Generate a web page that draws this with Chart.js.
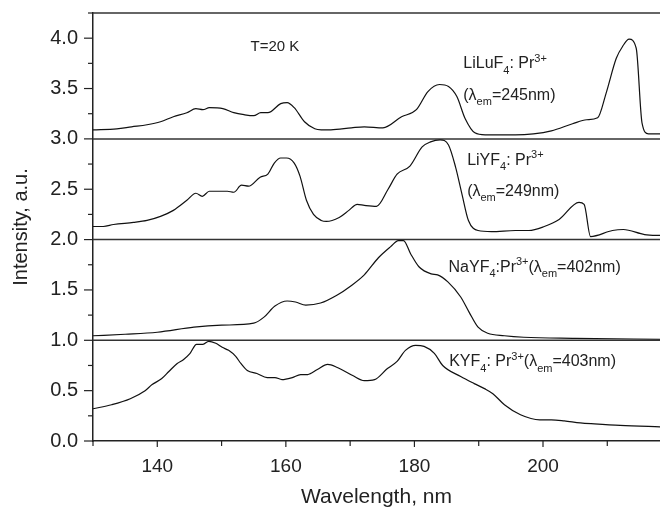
<!DOCTYPE html>
<html>
<head>
<meta charset="utf-8">
<script src="https://cdn.jsdelivr.net/npm/chart.js@4/dist/chart.umd.min.js"></script>
<style>
    html, body { margin: 0; padding: 0; background: #fff; }
    #wrap { width: 660px; height: 507px; }
</style>
</head>
<body>
<div id="wrap"><canvas id="spectra"></canvas></div>
<script>
// excitation spectra, stacked with offsets 3 / 2 / 1 / 0
var liluWl = [130, 133.7, 136, 138.4, 140.5, 142.5, 144.6, 146, 147.1, 148.1, 150.2, 151.9, 153.5, 155, 156.1, 157.2, 159.2, 160.2, 161.3, 162.9, 164.5, 165.5, 167, 170.2, 172.2, 175.1, 178, 180.3, 182.1, 183.9, 185.3, 186.6, 187.9, 189.4, 191, 195.7, 198.5, 201.3, 204.6, 206.8, 208.5, 209.8, 211.4, 212.4, 213.4, 214.5, 215.4, 216.4, 218.6];
var liluI = [3.09, 3.10, 3.12, 3.14, 3.17, 3.22, 3.26, 3.30, 3.29, 3.31, 3.30, 3.26, 3.24, 3.23, 3.26, 3.26, 3.35, 3.36, 3.31, 3.17, 3.10, 3.09, 3.09, 3.11, 3.12, 3.11, 3.22, 3.29, 3.47, 3.54, 3.52, 3.42, 3.20, 3.06, 3.04, 3.04, 3.05, 3.08, 3.15, 3.19, 3.21, 3.45, 3.80, 3.92, 3.99, 3.90, 3.16, 3.05, 3.05];

var liyWl = [130, 131.6, 133.2, 136.3, 138.4, 140.5, 142.5, 144.6, 146, 147, 148.1, 150.9, 151.9, 153.1, 154.2, 156, 157.2, 158.2, 159.2, 160.1, 161.3, 162.2, 163.2, 164.3, 165.5, 166.3, 168.3, 169.8, 171.1, 172.2, 174.1, 175.9, 177.3, 179.3, 181.2, 182.5, 184, 185.3, 186.4, 187.4, 188.4, 189.9, 192, 195.7, 197.8, 200.2, 202.5, 205.6, 206.4, 207.4, 210.8, 212.5, 215.8, 218.6];
var liyI = [2.13, 2.13, 2.15, 2.17, 2.19, 2.23, 2.29, 2.39, 2.46, 2.43, 2.48, 2.48, 2.47, 2.54, 2.53, 2.62, 2.65, 2.76, 2.81, 2.81, 2.76, 2.63, 2.39, 2.25, 2.19, 2.18, 2.22, 2.29, 2.35, 2.34, 2.33, 2.50, 2.65, 2.73, 2.92, 2.97, 2.99, 2.94, 2.72, 2.45, 2.19, 2.09, 2.08, 2.09, 2.09, 2.13, 2.20, 2.37, 2.35, 2.03, 2.09, 2.10, 2.05, 2.04];

var naWl = [130, 135, 140, 145.7, 150, 155, 156.6, 158.3, 160.2, 161.5, 163.1, 165.4, 168, 170.1, 172.2, 174.4, 176.3, 177.5, 178.3, 179.4, 180.7, 182.6, 183.6, 185.2, 187.2, 188.5, 189.9, 191.4, 194, 197, 205, 218.6];
var naI = [1.045, 1.06, 1.08, 1.13, 1.15, 1.17, 1.23, 1.34, 1.39, 1.38, 1.35, 1.37, 1.45, 1.54, 1.65, 1.82, 1.93, 1.99, 1.99, 1.86, 1.73, 1.66, 1.65, 1.58, 1.43, 1.28, 1.13, 1.07, 1.045, 1.03, 1.02, 1.01];

var kyWl = [130, 132.9, 135.8, 138.1, 139.2, 140.7, 141.8, 143.1, 144.1, 145.1, 146.1, 147.1, 148, 149.1, 150.1, 151.1, 152.2, 153, 154, 155.5, 157.1, 158.3, 159.4, 161, 162.3, 163.4, 164.9, 166.5, 168, 170.4, 172.2, 173.8, 175.8, 177.3, 178.6, 180.2, 181.5, 183.1, 184.4, 187.2, 189.3, 190.9, 192.2, 194, 196.5, 199.5, 201.3, 203.3, 205.8, 208, 212, 218.6];
var kyI = [0.32, 0.36, 0.42, 0.50, 0.56, 0.62, 0.69, 0.77, 0.81, 0.87, 0.96, 0.96, 0.99, 0.97, 0.93, 0.90, 0.84, 0.77, 0.70, 0.67, 0.63, 0.63, 0.61, 0.63, 0.66, 0.66, 0.71, 0.76, 0.73, 0.65, 0.60, 0.61, 0.72, 0.79, 0.90, 0.95, 0.94, 0.87, 0.75, 0.64, 0.57, 0.52, 0.47, 0.36, 0.26, 0.21, 0.21, 0.20, 0.18, 0.17, 0.155, 0.14];

var splitLevels = [1, 2, 3];
var xMin = 130, xMax = 218.2;
var yMin = 0, yMax = 4.25;

// text labels, anchored in data units (left edge, baseline)
var labels = [
    { x: 154.5, y: 3.87, size: 15, parts: [['T=20 K', 'n']] },
    { x: 187.6, y: 3.70, size: 16, parts: [['LiLuF', 'n'], ['4', 'sub'], [': Pr', 'n'], ['3+', 'sup']] },
    { x: 187.6, y: 3.385, size: 16, parts: [['(\u03bb', 'n'], ['em', 'sub'], ['=245nm)', 'n']] },
    { x: 188.2, y: 2.74, size: 16, parts: [['LiYF', 'n'], ['4', 'sub'], [': Pr', 'n'], ['3+', 'sup']] },
    { x: 188.2, y: 2.43, size: 16, parts: [['(\u03bb', 'n'], ['em', 'sub'], ['=249nm)', 'n']] },
    { x: 185.3, y: 1.68, size: 16, parts: [['NaYF', 'n'], ['4', 'sub'], [':Pr', 'n'], ['3+', 'sup'], ['(\u03bb', 'n'], ['em', 'sub'], ['=402nm)', 'n']] },
    { x: 185.4, y: 0.74, size: 16, parts: [['KYF', 'n'], ['4', 'sub'], [': Pr', 'n'], ['3+', 'sup'], ['(\u03bb', 'n'], ['em', 'sub'], ['=403nm)', 'n']] }
];

var FONT = "'Liberation Sans', Arial, Helvetica, sans-serif";

function toPoints(xs, ys) {
    return xs.map(function (x, i) { return { x: x, y: ys[i] }; });
}

function lineSet(name, xs, ys) {
    return {
        label: name,
        data: toPoints(xs, ys),
        borderColor: '#111',
        borderWidth: 1.2,
        pointRadius: 0,
        fill: false,
        cubicInterpolationMode: 'monotone'
    };
}

function isHalfStep(v) {
    return Math.abs(v / 0.5 - Math.round(v / 0.5)) < 1e-6;
}

function drawRich(ctx, x, y, size, parts) {
    var small = Math.round(size * 0.7);
    parts.forEach(function (p) {
        var txt = p[0], mode = p[1];
        var fs = mode === 'n' ? size : small;
        var dy = mode === 'sub' ? size * 0.32 : (mode === 'sup' ? -size * 0.42 : 0);
        ctx.font = fs + 'px ' + FONT;
        ctx.fillText(txt, x, y + dy);
        x += ctx.measureText(txt).width;
    });
}

var framePlugin = {
    id: 'frame',
    beforeDatasetsDraw: function (chart) {
        var ctx = chart.ctx, ys = chart.scales.y, area = chart.chartArea;
        ctx.save();
        ctx.strokeStyle = '#333';
        ctx.lineWidth = 1.5;
        splitLevels.concat([yMax]).forEach(function (v) {
            var py = ys.getPixelForValue(v);
            ctx.beginPath();
            ctx.moveTo(area.left, py);
            ctx.lineTo(area.right, py);
            ctx.stroke();
        });
        ctx.restore();
    },
    afterDraw: function (chart) {
        var ctx = chart.ctx, xs = chart.scales.x, ys = chart.scales.y, area = chart.chartArea;
        ctx.save();
        ctx.strokeStyle = '#222';
        ctx.lineWidth = 1.2;
        // y ticks: major every 0.5, minor every 0.25
        for (var v = yMin; v <= yMax + 1e-9; v += 0.25) {
            var py = ys.getPixelForValue(v);
            ctx.beginPath();
            ctx.moveTo(area.left, py);
            ctx.lineTo(area.left - (isHalfStep(v) ? 9 : 5), py);
            ctx.stroke();
        }
        // x ticks every 10 nm
        for (var w = xMin; w <= xMax; w += 10) {
            var px = xs.getPixelForValue(w);
            ctx.beginPath();
            ctx.moveTo(px, area.bottom);
            ctx.lineTo(px, area.bottom + (w % 20 === 0 ? 6 : 5));
            ctx.stroke();
        }
        ctx.fillStyle = '#222';
        ctx.textBaseline = 'alphabetic';
        ctx.textAlign = 'left';
        labels.forEach(function (lb) {
            drawRich(ctx, xs.getPixelForValue(lb.x), ys.getPixelForValue(lb.y), lb.size, lb.parts);
        });
        ctx.restore();
    }
};

// invisible grid ticks only push the labels away from the axis
var hiddenGrid = { display: true, drawOnChartArea: false, drawTicks: true, tickColor: 'rgba(0,0,0,0)' };

var ctx = document.getElementById('spectra').getContext('2d');
var chart = new Chart(ctx, {
    type: 'line',
    data: {
        datasets: [
            lineSet('LiLuF4', liluWl, liluI),
            lineSet('LiYF4', liyWl, liyI),
            lineSet('NaYF4', naWl, naI),
            lineSet('KYF4', kyWl, kyI)
        ]
    },
    options: {
        responsive: true,
        maintainAspectRatio: false,
        animation: false,
        layout: { padding: { top: 13, right: 0, left: 0, bottom: 0 } },
        plugins: {
            legend: { display: false },
            tooltip: { enabled: false }
        },
        scales: {
            x: {
                type: 'linear',
                min: xMin,
                max: xMax,
                grid: Object.assign({ tickLength: 14 }, hiddenGrid),
                border: { display: true, color: '#222', width: 1.5 },
                ticks: {
                    stepSize: 20,
                    padding: 0,
                    color: '#222',
                    font: { family: FONT, size: 19 },
                    maxRotation: 0,
                    autoSkip: false,
                    callback: function (v) { return v % 20 === 0 ? String(v) : ''; }
                },
                title: {
                    display: true,
                    text: 'Wavelength, nm',
                    color: '#222',
                    font: { family: FONT, size: 21 },
                    padding: { top: 0, bottom: -3 }
                },
                afterFit: function (s) { s.height = 66; }
            },
            y: {
                min: yMin,
                max: yMax,
                grid: Object.assign({ tickLength: 15 }, hiddenGrid),
                border: { display: true, color: '#222', width: 1.5 },
                ticks: {
                    stepSize: 0.5,
                    padding: 0,
                    color: '#222',
                    font: { family: FONT, size: 20 },
                    callback: function (v) { return isHalfStep(v) ? v.toFixed(1) : ''; }
                },
                title: {
                    display: true,
                    text: 'Intensity, a.u.',
                    color: '#222',
                    font: { family: FONT, size: 20 },
                    padding: { top: 9, bottom: 0 }
                },
                afterFit: function (s) { s.width = 93; }
            }
        }
    },
    plugins: [framePlugin]
});
</script>
</body>
</html>
